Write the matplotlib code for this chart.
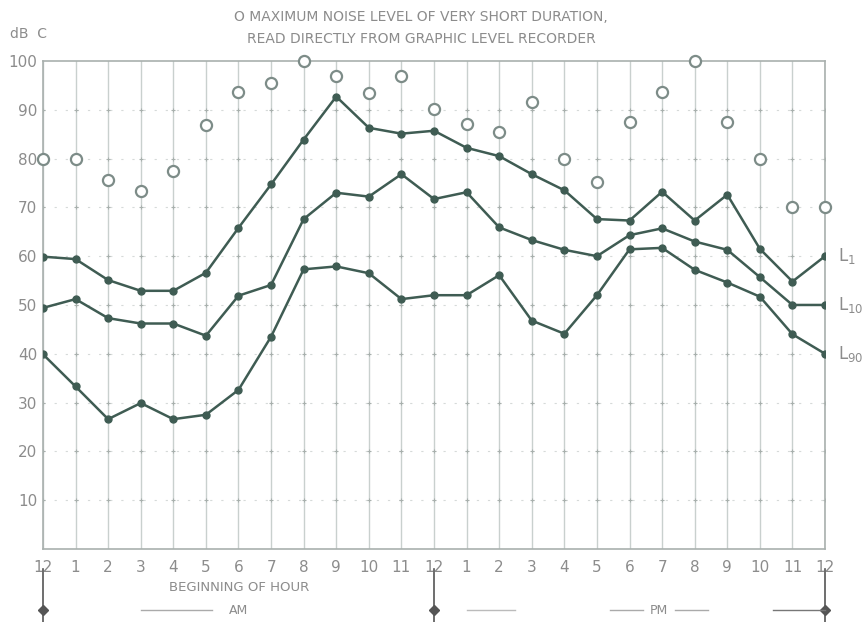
import matplotlib.pyplot as plt
import matplotlib.transforms as mtransforms
import numpy as np

hour_labels = ['12', '1', '2', '3', '4', '5', '6', '7', '8', '9', '10', '11',
               '12', '1', '2', '3', '4', '5', '6', '7', '8', '9', '10', '11', '12']
max_noise = [80, 80, 75.6, 73.4, 77.5, 86.8, 93.7, 95.4, 100, 96.9, 93.4, 97, 90.1,
             87.1, 85.4, 91.5, 80, 75.1, 87.5, 93.7, 100, 87.5, 80, 70, 70]
l1 = [59.9, 59.4, 55.1, 52.9, 52.9, 56.6, 65.8, 74.7, 83.9, 92.7, 86.3, 85.1, 85.7,
      82.2, 80.5, 76.8, 73.5, 67.6, 67.3, 73.2, 67.3, 72.6, 61.5, 54.8, 60.0]
l10 = [49.4, 51.2, 47.3, 46.2, 46.2, 43.7, 51.9, 54.1, 67.6, 73.0, 72.2, 76.8, 71.7,
       73.1, 65.9, 63.3, 61.3, 60.0, 64.3, 65.7, 63.0, 61.3, 55.7, 50.0, 50.0]
l90 = [39.9, 33.3, 26.6, 29.9, 26.6, 27.5, 32.6, 43.5, 57.3, 57.9, 56.5, 51.2, 52.0,
       52.0, 56.1, 46.8, 44.1, 52.0, 61.4, 61.7, 57.2, 54.6, 51.7, 44.0, 40.0]
y_ticks = [10, 20, 30, 40, 50, 60, 70, 80, 90, 100]

LINE_COLOR = '#3f5c53'
TEXT_COLOR = '#8c8c8c'
GRID_COLOR = '#c9d0ce'

x = np.arange(len(hour_labels))

fig = plt.figure(figsize=(8.68, 6.22), dpi=100)
ax = fig.add_axes([0.0495, 0.1174, 0.901, 0.7846])

# grid: full vertical lines, dotted horizontal lines with dots at crossings
for xi in x:
    ax.axvline(xi, color=GRID_COLOR, linewidth=1.0, zorder=0)
for yv in y_ticks[:-1]:
    ax.axhline(yv, color='#d6dad9', linewidth=0.8, linestyle=(0, (2, 8)), zorder=0)
gx, gy = np.meshgrid(x, y_ticks[:-1])
ax.scatter(gx.ravel(), gy.ravel(), s=5, color='#a8b0ad', marker='+', linewidths=0.8, zorder=1)

ax.plot(x, l1, color=LINE_COLOR, linewidth=1.8, marker='o', markersize=5, zorder=3)
ax.plot(x, l10, color=LINE_COLOR, linewidth=1.8, marker='o', markersize=5, zorder=3)
ax.plot(x, l90, color=LINE_COLOR, linewidth=1.8, marker='o', markersize=5, zorder=3)
ax.plot(x, max_noise, linestyle='none', marker='o', markersize=8, markerfacecolor='white',
        markeredgecolor='#7d8c88', markeredgewidth=1.6, zorder=4, clip_on=False)

ax.set_xlim(0, 24)
ax.set_ylim(0, 100)
ax.set_xticks(x)
ax.set_xticklabels(hour_labels, fontsize=11, color=TEXT_COLOR)
ax.set_yticks(y_ticks)
ax.set_yticklabels([str(v) for v in y_ticks], fontsize=11, color=TEXT_COLOR)
ax.tick_params(axis='both', length=0, pad=8)
ax.tick_params(axis='y', pad=4)
for sp in ax.spines.values():
    sp.set_color('#a9b0ae')
    sp.set_linewidth(1.2)

# right-side series labels
for yv, lab in zip([l1[-1], l10[-1], l90[-1]], [r'L$_{\mathregular{1}}$', r'L$_{\mathregular{10}}$', r'L$_{\mathregular{90}}$']):
    ax.text(24.4, yv, lab, fontsize=12, color=TEXT_COLOR, va='center', ha='left', clip_on=False)

# header texts
fig.text(0.485, 0.972, 'O MAXIMUM NOISE LEVEL OF VERY SHORT DURATION,', fontsize=10,
         color=TEXT_COLOR, ha='center', va='center')
fig.text(0.485, 0.938, 'READ DIRECTLY FROM GRAPHIC LEVEL RECORDER', fontsize=10,
         color=TEXT_COLOR, ha='center', va='center')
fig.text(0.012, 0.945, 'dB  C', fontsize=10, color=TEXT_COLOR, ha='left', va='center')

# AM / PM bar below the axis
trans = mtransforms.blended_transform_factory(ax.transData, fig.transFigure)
fig.text(0.275, 0.055, 'BEGINNING OF HOUR', fontsize=9.5, color=TEXT_COLOR, ha='center', va='center')
for xb in [0, 12, 24]:
    ax.plot([xb, xb], [0.0, 0.085], transform=trans, color='#555555', linewidth=1.2, clip_on=False)
    ax.plot([xb], [0.019], transform=trans, marker='D', markersize=5, color='#555555', clip_on=False)
ax.plot([3.0, 5.2], [0.019, 0.019], transform=trans, color='#aaaaaa', linewidth=1, clip_on=False)
ax.text(6.0, 0.019, 'AM', transform=trans, fontsize=9, color=TEXT_COLOR, ha='center', va='center')
ax.plot([13.0, 14.5], [0.019, 0.019], transform=trans, color='#bbbbbb', linewidth=1, clip_on=False)
ax.plot([17.4, 18.4], [0.019, 0.019], transform=trans, color='#aaaaaa', linewidth=1, clip_on=False)
ax.text(18.9, 0.019, 'PM', transform=trans, fontsize=9, color=TEXT_COLOR, ha='center', va='center')
ax.plot([19.4, 20.4], [0.019, 0.019], transform=trans, color='#aaaaaa', linewidth=1, clip_on=False)
ax.plot([22.4, 24.0], [0.019, 0.019], transform=trans, color='#777777', linewidth=1, clip_on=False)

fig.savefig('out.png', dpi=100)
